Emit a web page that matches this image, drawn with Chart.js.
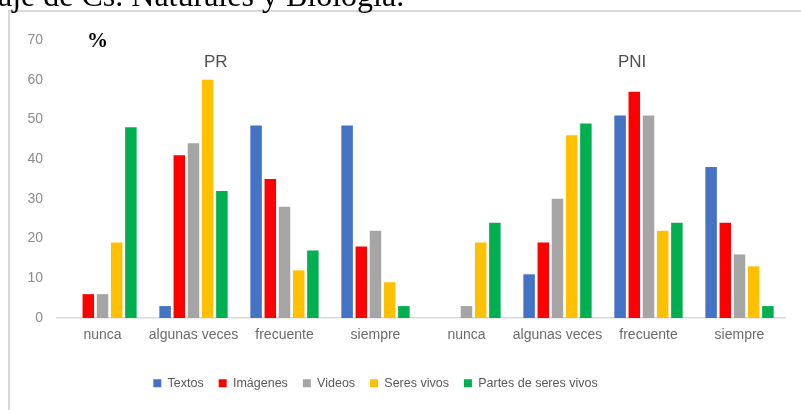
<!DOCTYPE html>
<html>
<head>
<meta charset="utf-8">
<script src="https://cdn.jsdelivr.net/npm/chart.js@4.4.1/dist/chart.umd.min.js"></script>
<style>
  html, body { margin: 0; padding: 0; background: #fff; }
  #wrap { position: relative; width: 801px; height: 410px; }
</style>
</head>
<body>
<div id="wrap"><canvas id="chart" width="801" height="410"></canvas></div>
<script>
// Categories (two groups of four: PR then PNI)
const categories = ['nunca', 'algunas veces', 'frecuente', 'siempre', 'nunca', 'algunas veces', 'frecuente', 'siempre'];
const groupLabels = ['PR', 'PNI'];

// Series values (%)
const textos = [0, 3, 48.5, 48.5, 0, 11, 51, 38];
const imagenes = [6, 41, 35, 18, 0, 19, 57, 24];
const videos = [6, 44, 28, 22, 3, 30, 51, 16];
const seresVivos = [19, 60, 12, 9, 19, 46, 22, 13];
const partesSeresVivos = [48, 32, 17, 3, 24, 49, 24, 3];

const seriesNames = ['Textos', 'Imágenes', 'Videos', 'Seres vivos', 'Partes de seres vivos'];
const seriesColors = ['#4472C4', '#FF0000', '#A5A5A5', '#FFC000', '#00B050'];

const yMax = 70;
const yStep = 10;

const caption = 'aje de Cs. Naturales y Biología.';

// Frame, caption, "%" and group titles
const decorations = {
  id: 'decorations',
  beforeDraw(chart) {
    const ctx = chart.ctx;
    ctx.save();
    ctx.fillStyle = '#fff';
    ctx.fillRect(0, 0, chart.width, chart.height);
    ctx.strokeStyle = '#d9d9d9';
    ctx.lineWidth = 2;
    ctx.beginPath();
    ctx.moveTo(9, chart.height);
    ctx.lineTo(9, 11);
    ctx.lineTo(chart.width, 11);
    ctx.stroke();
    ctx.fillStyle = '#000';
    ctx.font = '32px "Liberation Serif"';
    ctx.textBaseline = 'alphabetic';
    ctx.textAlign = 'left';
    ctx.fillText(caption, -2, 6);
    ctx.restore();
  },
  afterDraw(chart) {
    const ctx = chart.ctx;
    const area = chart.chartArea;
    const y = chart.scales.y;
    const w = area.right - area.left;
    ctx.save();
    ctx.fillStyle = '#000';
    ctx.font = 'bold 21px "Liberation Serif"';
    ctx.textAlign = 'center';
    ctx.textBaseline = 'alphabetic';
    ctx.fillText('%', area.left + 40.5, 47);
    ctx.fillStyle = '#505050';
    ctx.font = '17px "Liberation Sans"';
    ctx.textBaseline = 'middle';
    ctx.fillText(groupLabels[0], area.left + w * 0.218, y.getPixelForValue(64.5));
    ctx.fillText(groupLabels[1], area.left + w * 0.79, y.getPixelForValue(64.5));
    ctx.restore();
  },
  afterLayout(chart) {
    // Excel centres the legend a bit left of the canvas centre
    chart.legend.left -= 17;
    chart.legend.right -= 17;
  }
};

const seriesData = [textos, imagenes, videos, seresVivos, partesSeresVivos];

new Chart(document.getElementById('chart'), {
  type: 'bar',
  data: {
    labels: categories,
    datasets: seriesData.map((values, i) => ({
      label: seriesNames[i],
      data: values,
      backgroundColor: seriesColors[i],
      borderWidth: 0,
      categoryPercentage: 0.78,
      barPercentage: 0.81
    }))
  },
  options: {
    responsive: false,
    animation: false,
    devicePixelRatio: 1,
    layout: {
      padding: { top: 40, right: 16, left: 0, bottom: 10.5 }
    },
    scales: {
      x: {
        grid: { display: false, drawTicks: false },
        border: { display: true, color: '#d9d9d9', width: 1.5 },
        ticks: {
          color: '#6b6b6b',
          font: { family: 'Liberation Sans', size: 14 },
          padding: 9,
          maxRotation: 0,
          autoSkip: false
        },
        afterFit(scale) { scale.height = 44; }
      },
      y: {
        min: 0,
        max: yMax,
        grid: { display: false, drawTicks: false },
        border: { display: false },
        ticks: {
          stepSize: yStep,
          color: '#8c8c8c',
          font: { family: 'Liberation Sans', size: 14 },
          padding: 14
        },
        afterFit(scale) { scale.width = 57; }
      }
    },
    plugins: {
      legend: {
        position: 'bottom',
        labels: {
          boxWidth: 8,
          boxHeight: 8,
          padding: 15,
          color: '#595959',
          font: { family: 'Liberation Sans', size: 12.5 }
        }
      },
      title: { display: false },
      tooltip: { enabled: false }
    }
  },
  plugins: [decorations]
});
</script>
</body>
</html>
